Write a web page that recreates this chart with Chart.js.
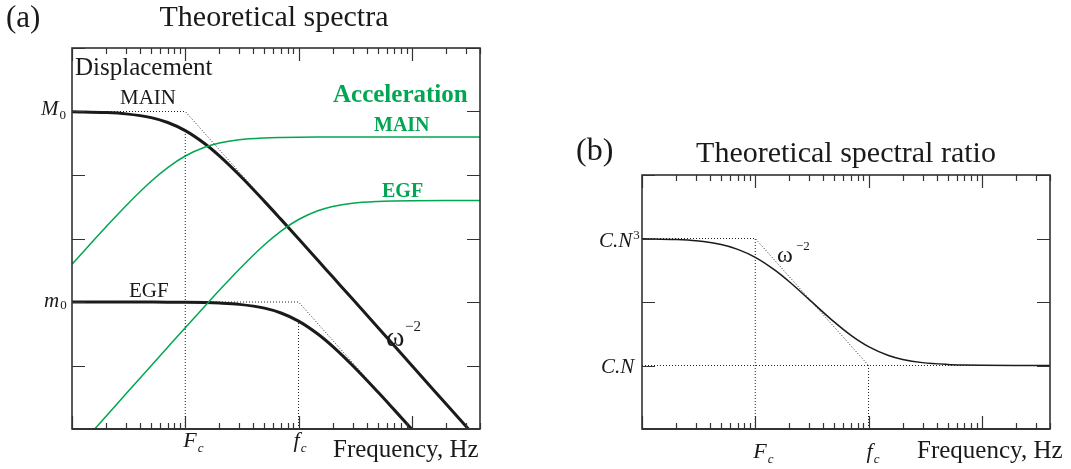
<!DOCTYPE html>
<html>
<head>
<meta charset="utf-8">
<script src="https://cdn.jsdelivr.net/npm/chart.js@4"></script>
<style>
  body { margin: 0; background: #fff; }
  canvas { position: absolute; top: 0; }
  #specChart { left: 0; }
  #ratioChart { left: 540px; }
</style>
</head>
<body>
<canvas id="specChart" width="540" height="469"></canvas>
<canvas id="ratioChart" width="531" height="469"></canvas>
<script>
const freq = [1, 2, 3, 5, 7, 10, 15, 20, 30, 50, 70, 100, 150, 200, 300, 500, 700, 1000, 2000, 4000];

// (a) displacement spectra
const mainDisp = [99010, 96154, 91743, 80000, 67114, 50000, 30769, 20000, 10000, 3846, 2000, 990, 442, 249, 111, 40, 20.4, 10, 2.5, 0.625];
const egfDisp = [100, 99.96, 99.91, 99.75, 99.51, 99.01, 97.8, 96.15, 91.74, 80, 67.11, 50, 30.77, 20, 10, 3.85, 2, 0.99, 0.25, 0.062];

// (a) acceleration spectra
const mainAcc = [394, 1531, 3287, 7962, 13093, 19906, 27561, 31849, 35830, 38280, 39015, 39417, 39635, 39712, 39767, 39796, 39803, 39807, 39810, 39811];
const egfAcc = [0.398, 1.59, 3.58, 9.93, 19.41, 39.42, 87.6, 153.1, 328.7, 796.2, 1309, 1990, 2756, 3185, 3583, 3828, 3902, 3942, 3971, 3979];

// (b) spectral ratio
const ratio = [990.1, 961.9, 918.3, 802, 674.4, 505, 314.6, 208, 109, 48.08, 29.8, 19.8, 14.38, 12.47, 11.1, 10.4, 10.2, 10.1, 10.02, 10.01];

// corner frequencies and plateau levels
const Fc = 10, fc = 100;
const M0 = 1e5, m0 = 100;
const CN3 = 1000, CN = 10;

// dotted asymptotes
const mainAsymF = [1, Fc, 3162];
const mainAsymV = [M0, M0, 1];
const egfAsymF = [1, fc, 1000];
const egfAsymV = [m0, m0, 1];
const ratioAsymF = [1, Fc, fc];
const ratioAsymV = [CN3, CN3, CN];

const serif = '"Liberation Serif", "DejaVu Serif", serif';
const green = "#00a651";
const ink = "#1a1a1a";

const pts = (xs, ys) => xs.map((x, i) => ({ x: x, y: ys[i] }));

function solid(data, color, width) {
  return { data: data, borderColor: color, borderWidth: width, pointRadius: 0,
           cubicInterpolationMode: "monotone", fill: false };
}
function dotted(data) {
  return { data: data, borderColor: "#222", borderWidth: 1, borderDash: [1, 2],
           pointRadius: 0, tension: 0, fill: false };
}

function text(ctx, str, x, y, font, color, align) {
  ctx.font = font;
  ctx.fillStyle = color || ink;
  ctx.textAlign = align || "left";
  ctx.textBaseline = "alphabetic";
  ctx.fillText(str, x, y);
}

// box, log ticks on all four sides (pointing inward)
function drawFrame(chart) {
  const ctx = chart.ctx, a = chart.chartArea;
  const xs = chart.scales.x, ys = chart.scales.y;
  ctx.save();
  ctx.strokeStyle = "#333";
  ctx.lineWidth = 1.2;
  ctx.beginPath();
  for (let d = 1; d <= xs.max; d *= 10) {
    for (let m = 1; m <= 9; m++) {
      const v = d * m;
      if (v > xs.max) break;
      const px = Math.round(xs.getPixelForValue(v)) + 0.5;
      const len = m === 1 ? 13 : 6;
      ctx.moveTo(px, a.bottom); ctx.lineTo(px, a.bottom - len);
      ctx.moveTo(px, a.top); ctx.lineTo(px, a.top + len);
    }
  }
  for (let v = ys.min; v <= ys.max; v *= 10) {
    const py = Math.round(ys.getPixelForValue(v)) + 0.5;
    ctx.moveTo(a.left, py); ctx.lineTo(a.left + 13, py);
    ctx.moveTo(a.right, py); ctx.lineTo(a.right - 13, py);
  }
  ctx.stroke();
  ctx.lineWidth = 1.6;
  ctx.strokeRect(a.left, a.top, a.right - a.left, a.bottom - a.top);
  ctx.lineWidth = 2.2;
  ctx.beginPath();
  ctx.moveTo(a.left, a.bottom); ctx.lineTo(a.right, a.bottom);
  ctx.stroke();
  ctx.restore();
}

// italic symbol followed by a smaller sub/superscript
function sub(ctx, main, small, x, y, size, subSize, dy, smallItalic) {
  text(ctx, main, x, y, "italic " + size + "px " + serif);
  const w = ctx.measureText(main).width;
  text(ctx, small, x + w + 1, y + dy, (smallItalic ? "italic " : "") + subSize + "px " + serif);
}

const baseOptions = (pad, yMax) => ({
  responsive: false,
  devicePixelRatio: 1,
  animation: false,
  layout: { padding: pad },
  plugins: { legend: { display: false }, tooltip: { enabled: false } },
  scales: {
    x: { type: "logarithmic", min: 1, max: 4000, display: false },
    y: { type: "logarithmic", min: 1, max: yMax, display: false }
  }
});

const specLabels = {
  id: "specLabels",
  afterDraw(chart) {
    drawFrame(chart);
    const ctx = chart.ctx, xs = chart.scales.x, ys = chart.scales.y;
    const xF = xs.getPixelForValue(Fc), xf = xs.getPixelForValue(fc);
    text(ctx, "(a)", 6, 27, "31px " + serif);
    text(ctx, "Theoretical spectra", 274, 26, "30px " + serif, ink, "center");
    text(ctx, "Displacement", 75, 75, "25px " + serif);
    text(ctx, "MAIN", 120, 104, "21px " + serif);
    text(ctx, "EGF", 129, ys.getPixelForValue(m0) - 5, "21px " + serif);
    sub(ctx, "M", "0", 41, ys.getPixelForValue(M0) + 3, 21, 13, 4, false);
    sub(ctx, "m", "0", 44, ys.getPixelForValue(m0) + 5, 21, 13, 2, false);
    text(ctx, "Acceleration", 333, 102, "bold 25px " + serif, green);
    text(ctx, "MAIN", 374, 131, "bold 20px " + serif, green);
    text(ctx, "EGF", 382, 197, "bold 20px " + serif, green);
    text(ctx, "\u03c9", 386, 346, "28px " + serif);
    text(ctx, "\u22122", 405, 331, "15px " + serif);
    sub(ctx, "F", "c", xF - 2, 447, 22, 13, 5, true);
    sub(ctx, "f", "c", xf - 5, 447, 22, 13, 5, true);
    text(ctx, "Frequency, Hz", 333, 457, "25px " + serif);
  }
};

const ratioLabels = {
  id: "ratioLabels",
  afterDraw(chart) {
    drawFrame(chart);
    const ctx = chart.ctx, xs = chart.scales.x, ys = chart.scales.y;
    const xF = xs.getPixelForValue(Fc), xf = xs.getPixelForValue(fc);
    text(ctx, "(b)", 36, 160, "32px " + serif);
    text(ctx, "Theoretical spectral ratio", 306, 162, "30px " + serif, ink, "center");
    sub(ctx, "C.N", "3", 59, ys.getPixelForValue(CN3) + 8, 21, 13, -8, false);
    text(ctx, "C.N", 61, ys.getPixelForValue(CN) + 7, "italic 21px " + serif);
    text(ctx, "\u03c9", 237, 262, "24px " + serif);
    text(ctx, "\u22122", 256, 250, "13px " + serif);
    sub(ctx, "F", "c", xF - 2, 458, 22, 13, 5, true);
    sub(ctx, "f", "c", xf - 2, 458, 22, 13, 5, true);
    text(ctx, "Frequency, Hz", 377, 458, "25px " + serif);
  }
};

new Chart(document.getElementById("specChart").getContext("2d"), {
  type: "line",
  data: {
    datasets: [
      dotted(pts(mainAsymF, mainAsymV)),
      dotted(pts(egfAsymF, egfAsymV)),
      dotted([{ x: Fc, y: 1 }, { x: Fc, y: M0 / 2 }]),
      dotted([{ x: fc, y: 1 }, { x: fc, y: m0 / 2 }]),
      solid(pts(freq, mainAcc), green, 1.5),
      solid(pts(freq, egfAcc), green, 1.5),
      solid(pts(freq, mainDisp), ink, 3),
      solid(pts(freq, egfDisp), ink, 3)
    ]
  },
  options: baseOptions({ left: 72, right: 60, top: 48, bottom: 40 }, 1e6),
  plugins: [specLabels]
});

new Chart(document.getElementById("ratioChart").getContext("2d"), {
  type: "line",
  data: {
    datasets: [
      dotted(pts(ratioAsymF, ratioAsymV)),
      dotted([{ x: 1, y: CN }, { x: 4000, y: CN }]),
      dotted([{ x: Fc, y: 1 }, { x: Fc, y: CN3 }]),
      dotted([{ x: fc, y: 1 }, { x: fc, y: CN }]),
      solid(pts(freq, ratio), ink, 1.5)
    ]
  },
  options: baseOptions({ left: 102, right: 21, top: 175, bottom: 40 }, 1e4),
  plugins: [ratioLabels]
});
</script>
</body>
</html>
